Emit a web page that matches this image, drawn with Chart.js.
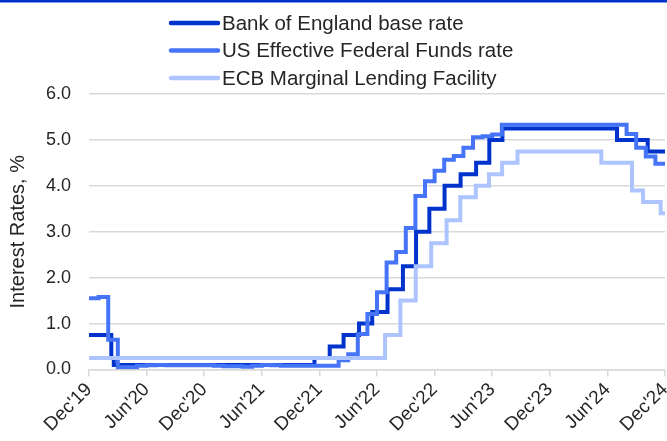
<!DOCTYPE html>
<html>
<head>
<meta charset="utf-8">
<script src="https://cdn.jsdelivr.net/npm/chart.js@4.4.1/dist/chart.umd.min.js"></script>
<style>
  html, body { margin: 0; padding: 0; background: #fff; }
  #wrap { width: 667px; height: 441px; position: relative; }
</style>
</head>
<body>
<div id="wrap"><canvas id="rates"></canvas></div>
<script>
// x axis: months since 1 Jan 2020, one tick every 6 months
const tickLabels = ["Dec'19", "Jun'20", "Dec'20", "Jun'21", "Dec'21", "Jun'22",
  "Dec'22", "Jun'23", "Dec'23", "Jun'24", "Dec'24"];

// Bank of England base rate, by decision date
const boeDates = ['2020-01-01', '2020-03-11', '2020-03-19', '2021-12-16', '2022-02-03',
  '2022-03-17', '2022-05-05', '2022-06-16', '2022-08-04', '2022-09-22', '2022-11-03',
  '2022-12-15', '2023-02-02', '2023-03-23', '2023-05-11', '2023-06-22', '2023-08-03',
  '2024-08-01', '2024-11-07'];
const boeRates = [0.75, 0.25, 0.10, 0.25, 0.50, 0.75, 1.00, 1.25, 1.75, 2.25, 3.00,
  3.50, 4.00, 4.25, 4.50, 5.00, 5.25, 5.00, 4.75];

// US effective federal funds rate, monthly average Jan 2020 - Dec 2024
const fedMonths = [];
for (let y = 2020; y <= 2024; y++) {
  for (let m = 1; m <= 12; m++) fedMonths.push(y + '-' + String(m).padStart(2, '0') + '-01');
}
const fedRates = [
  1.55, 1.58, 0.65, 0.05, 0.05, 0.08, 0.09, 0.10, 0.09, 0.09, 0.09, 0.09,
  0.09, 0.08, 0.07, 0.07, 0.06, 0.08, 0.10, 0.09, 0.08, 0.08, 0.08, 0.08,
  0.08, 0.08, 0.20, 0.33, 0.77, 1.21, 1.68, 2.33, 2.56, 3.08, 3.78, 4.10,
  4.33, 4.57, 4.65, 4.83, 5.06, 5.08, 5.12, 5.33, 5.33, 5.33, 5.33, 5.33,
  5.33, 5.33, 5.33, 5.33, 5.33, 5.33, 5.33, 5.33, 5.13, 4.83, 4.64, 4.48];

// ECB marginal lending facility, by decision date
const ecbDates = ['2020-01-01', '2022-07-27', '2022-09-14', '2022-11-02', '2022-12-21',
  '2023-02-08', '2023-03-22', '2023-05-10', '2023-06-21', '2023-08-02', '2023-09-20',
  '2024-06-12', '2024-09-18', '2024-10-23', '2024-12-18'];
const ecbRates = [0.25, 0.75, 1.50, 2.25, 2.75, 3.25, 3.75, 4.00, 4.25, 4.50, 4.75,
  4.50, 3.90, 3.65, 3.40];

const END = 60;
const FONT = '"Liberation Sans", Arial, sans-serif';

function toMonths(d) {
  const [y, m, day] = d.split('-').map(Number);
  const days = new Date(y, m, 0).getDate();
  return (y - 2020) * 12 + (m - 1) + (day - 1) / days;
}

function series(dates, rates) {
  const pts = dates.map((d, i) => ({ x: toMonths(d), y: rates[i] }));
  pts.push({ x: END, y: rates[rates.length - 1] });
  return pts;
}

const legendLines = {
  id: 'legendLines',
  afterDraw(chart) {
    const ctx = chart.ctx;
    ctx.save();
    // thin blue band along the top edge
    ctx.fillStyle = '#0033cc';
    ctx.fillRect(0, 0, chart.width, 2.5);
    ctx.font = '20.5px ' + FONT;
    ctx.textBaseline = 'middle';
    ctx.fillStyle = '#262626';
    chart.data.datasets.forEach((ds, i) => {
      const y = 23 + i * 27.5;
      ctx.strokeStyle = ds.borderColor;
      ctx.lineWidth = 4.5;
      ctx.lineCap = 'round';
      ctx.beginPath();
      ctx.moveTo(171, y);
      ctx.lineTo(218, y);
      ctx.stroke();
      ctx.fillText(ds.label, 222, y + 1);
    });
    ctx.restore();
  }
};

const ctx = document.getElementById('rates').getContext('2d');
new Chart(ctx, {
  type: 'line',
  data: {
    datasets: [
      {
        label: 'Bank of England base rate',
        data: series(boeDates, boeRates),
        borderColor: '#0033cc',
        order: 2,
      },
      {
        label: 'US Effective Federal Funds rate',
        data: series(fedMonths, fedRates),
        borderColor: '#4674f6',
        order: 1,
      },
      {
        label: 'ECB Marginal Lending Facility',
        data: series(ecbDates, ecbRates),
        borderColor: '#adc4ff',
        order: 0,
      },
    ],
  },
  options: {
    responsive: true,
    maintainAspectRatio: false,
    animation: false,
    events: [],
    elements: {
      line: { borderWidth: 4, stepped: true, fill: false },
      point: { radius: 0 },
    },
    layout: { padding: { top: 94, left: 0, right: 2, bottom: 3 } },
    plugins: { legend: { display: false }, tooltip: { enabled: false } },
    scales: {
      x: {
        type: 'linear',
        min: 0,
        max: END,
        afterFit: (scale) => { scale.paddingRight = 0; },
        grid: { drawOnChartArea: false, drawTicks: true, tickLength: 7, color: '#d9d9d9', lineWidth: 1.5 },
        border: { color: '#d9d9d9', width: 1.5 },
        ticks: {
          stepSize: 6,
          autoSkip: false,
          minRotation: 45,
          maxRotation: 45,
          padding: 2,
          color: '#262626',
          font: { family: FONT, size: 19 },
          callback: (v) => tickLabels[v / 6],
        },
      },
      y: {
        min: 0,
        max: 6,
        grid: { drawTicks: false, color: '#d9d9d9', lineWidth: 1.5 },
        border: { display: false },
        ticks: {
          stepSize: 1,
          padding: 18,
          color: '#262626',
          font: { family: FONT, size: 18 },
          callback: (v) => v.toFixed(1),
        },
        title: {
          display: true,
          text: 'Interest Rates, %',
          color: '#262626',
          padding: { top: 8, bottom: 0 },
          font: { family: FONT, size: 20, lineHeight: 1 },
        },
      },
    },
  },
  plugins: [legendLines],
});
</script>
</body>
</html>
